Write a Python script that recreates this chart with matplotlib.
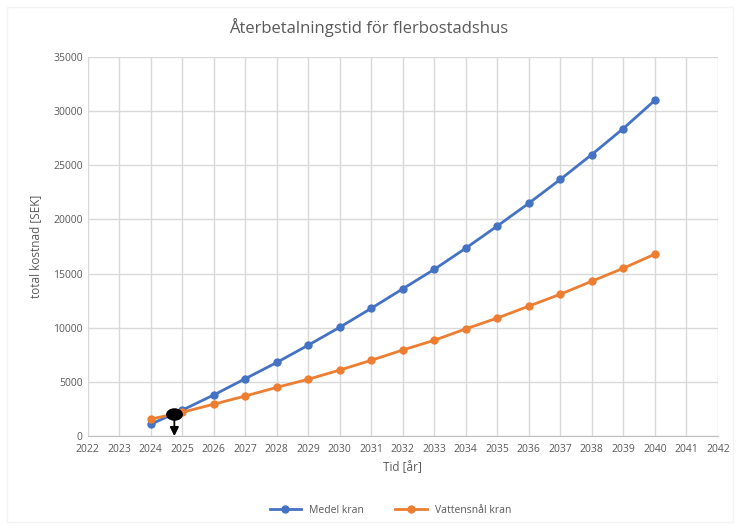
import matplotlib.pyplot as plt
from matplotlib.ticker import MultipleLocator
from matplotlib.markers import MarkerStyle
from matplotlib.transforms import Affine2D
from matplotlib.patches import Rectangle

years = list(range(2024, 2041))
medel_kran = [1100, 2400, 3800, 5300, 6800, 8400, 10050, 11800, 13600, 15400,
              17350, 19400, 21500, 23700, 26000, 28400, 31000]
vattensnal_kran = [1570, 2200, 2950, 3700, 4500, 5250, 6100, 7000, 7950, 8850,
                   9900, 10900, 12000, 13100, 14300, 15500, 16800]
breakeven_year = 2024.75
breakeven_cost = 2000

plt.rcParams['font.family'] = ['Open Sans', 'DejaVu Sans']
text_gray = '#595959'

fig = plt.figure(figsize=(7.37, 5.28), dpi=100)
fig.patches.append(Rectangle((0.009, 0.012), 0.985, 0.975, transform=fig.transFigure,
                             fill=False, edgecolor='#f3f3f3', lw=1))
ax = fig.add_axes([0.119, 0.174, 0.855, 0.718])

ax.plot(years, medel_kran, color='#4472C4', lw=2, marker='o', ms=5, label='Medel kran', zorder=3)
ax.plot(years, vattensnal_kran, color='#ED7D31', lw=2, marker='o', ms=5, label='Vattensnål kran', zorder=3)

# break-even marker (flattened ellipse) with an arrow pointing down to the time axis
ax.annotate('', xy=(breakeven_year, 0), xytext=(breakeven_year, breakeven_cost),
            arrowprops=dict(arrowstyle='-|>', color='black', lw=1.3, mutation_scale=13,
                            shrinkA=0, shrinkB=0),
            zorder=5)
ellipse = MarkerStyle('o', transform=Affine2D().scale(1.35, 1.0))
ax.plot([breakeven_year], [breakeven_cost], marker=ellipse, ms=9, color='black', zorder=6,
        markeredgewidth=0)

ax.set_xlim(2022, 2042)
ax.set_ylim(0, 35000)
ax.xaxis.set_major_locator(MultipleLocator(1))
ax.yaxis.set_major_locator(MultipleLocator(5000))
ax.grid(True, color='#d9d9d9', lw=1)
ax.set_axisbelow(True)
for side in ['top', 'right', 'left']:
    ax.spines[side].set_visible(False)
ax.spines['bottom'].set_color('#bfbfbf')
ax.tick_params(length=0, colors=text_gray, labelsize=7.5)
ax.tick_params(axis='x', pad=6)

ax.set_xlabel('Tid [år]', color=text_gray, fontsize=8.5)
ax.set_ylabel('total kostnad [SEK]', color=text_gray, fontsize=8.5, labelpad=8)
fig.suptitle('Återbetalningstid för flerbostadshus', y=0.965, color=text_gray, fontsize=12)

fig.legend(loc='lower center', bbox_to_anchor=(0.53, 0.005), ncol=2, frameon=False,
           fontsize=7.5, labelcolor=text_gray, handlelength=3, columnspacing=3)

fig.savefig('out.png', dpi=100)
